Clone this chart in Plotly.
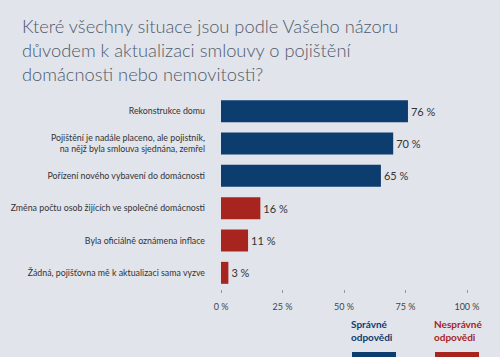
import plotly.graph_objects as go

categories = [
    "Rekonstrukce domu",
    "Pojištění je nadále placeno, ale pojistník,<br>na nějž byla smlouva sjednána, zemřel",
    "Pořízení nového vybavení do domácnosti",
    "Změna počtu osob žijících ve společné domácnosti",
    "Byla oficiálně oznámena inflace",
    "Žádná, pojišťovna mě k aktualizaci sama vyzve",
]
values = [76, 70, 65, 16, 11, 3]
correct = [True, True, True, False, False, False]
tick_vals = [0, 25, 50, 75, 100]
tick_text = ["0 %", "25 %", "50 %", "75 %", "100 %"]
legend_labels = ["Správné<br>odpovědi", "Nesprávné<br>odpovědi"]
title_text = ("Které všechny situace jsou podle Vašeho názoru<br>"
              "důvodem k aktualizaci smlouvy o pojištění<br>"
              "domácnosti nebo nemovitosti?")

NAVY = "#0d3c6e"
RED = "#a8241f"
BG = "#e1e4eb"
FONT = "Source Sans Pro, Lato, sans-serif"

W, H = 500, 357
ML, MR, MT, MB = 221, 33, 95, 68
pw = W - ML - MR
ph = H - MT - MB


def px_x(px):
    return (px - ML) / pw


def px_y(py):
    return (H - MB - py) / ph


colors = [NAVY if c else RED for c in correct]

fig = go.Figure(go.Bar(
    x=values,
    y=categories,
    orientation="h",
    marker=dict(color=colors, line=dict(width=0)),
    text=[f"{v} %" for v in values],
    textposition="outside",
    textfont=dict(size=11, color="#333333", family=FONT),
    cliponaxis=False,
    hoverinfo="skip",
))

fig.update_layout(
    width=W, height=H,
    paper_bgcolor=BG, plot_bgcolor=BG,
    margin=dict(l=ML, r=MR, t=MT, b=MB, autoexpand=False),
    bargap=0.32,
    showlegend=False,
    font=dict(family=FONT, color="#333333"),
    xaxis=dict(
        range=[0, 100],
        tickvals=tick_vals, ticktext=tick_text,
        showgrid=False, zeroline=False, showline=False,
        ticks="outside", ticklen=3, tickcolor="#999999", tickwidth=1,
        tickfont=dict(size=9, color="#444444"),
        ticklabelstandoff=6,
        automargin=False,
        fixedrange=True,
    ),
    yaxis=dict(
        autorange="reversed",
        showgrid=False, zeroline=False, showline=False,
        ticks="", tickfont=dict(size=8.8, color="#333333"),
        ticklabelstandoff=15,
        automargin=False,
        fixedrange=True,
    ),
)

# title as annotation
fig.add_annotation(
    x=px_x(20), y=px_y(13), xref="paper", yref="paper",
    text=title_text, showarrow=False, align="left",
    xanchor="left", yanchor="top",
    font=dict(size=18.3, color="#4f5a6a", family=FONT, weight=300),
)

# legend drawn as text + swatches
leg_x = [352, 435]
leg_colors = [NAVY, RED]
for lx, lab, col in zip(leg_x, legend_labels, leg_colors):
    fig.add_annotation(
        x=px_x(lx - 3), y=px_y(316), xref="paper", yref="paper",
        text=f"<b>{lab}</b>", showarrow=False, align="left",
        xanchor="left", yanchor="top",
        font=dict(size=10, color=col, family=FONT),
    )
    fig.add_shape(
        type="rect", xref="paper", yref="paper",
        x0=px_x(lx), x1=px_x(lx + 44), y0=px_y(352), y1=px_y(362),
        line=dict(width=0), fillcolor=col,
    )

fig.write_html(
    "out.html",
    config={"displayModeBar": False, "staticPlot": True},
    post_script="document.body.style.margin='0';document.body.style.overflow='hidden';",
)
